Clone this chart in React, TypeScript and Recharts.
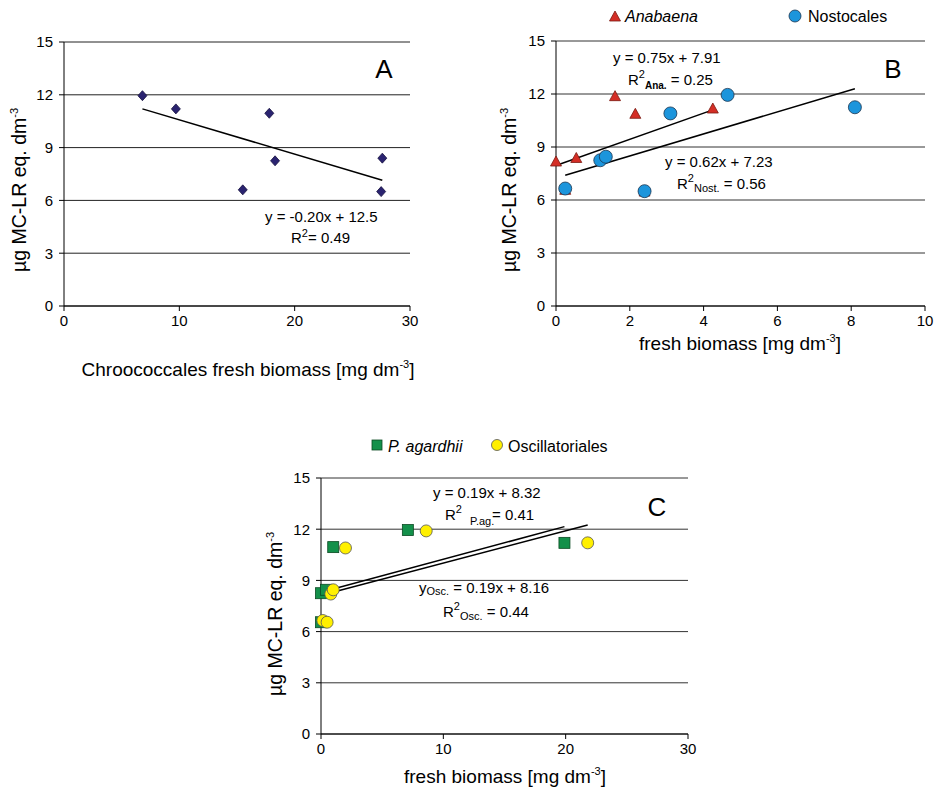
import { ScatterChart, Scatter, XAxis, YAxis, CartesianGrid, ReferenceLine } from 'recharts';

const FONT = '"Liberation Sans", Arial, sans-serif';

// panel A: Chroococcales
const chroococcales = [
  { x: 6.8, y: 11.95 },
  { x: 9.7, y: 11.2 },
  { x: 17.8, y: 10.95 },
  { x: 15.5, y: 6.6 },
  { x: 18.3, y: 8.25 },
  { x: 27.6, y: 8.4 },
  { x: 27.5, y: 6.5 },
];
const trendA = [{ x: 6.8, y: 11.2 }, { x: 27.6, y: 7.15 }];

// panel B: Anabaena / Nostocales
const anabaena = [
  { x: 0.0, y: 8.15 },
  { x: 0.55, y: 8.35 },
  { x: 1.6, y: 11.85 },
  { x: 2.15, y: 10.85 },
  { x: 4.25, y: 11.15 },
  { x: 0.25, y: 6.55 },
  { x: 2.4, y: 6.45 },
];
const nostocales = [
  { x: 0.25, y: 6.65 },
  { x: 1.2, y: 8.25 },
  { x: 1.35, y: 8.45 },
  { x: 2.4, y: 6.5 },
  { x: 3.1, y: 10.9 },
  { x: 4.65, y: 11.95 },
  { x: 8.1, y: 11.25 },
];
const trendAna = [{ x: 0, y: 7.95 }, { x: 4.25, y: 11.1 }];
const trendNost = [{ x: 0.25, y: 7.4 }, { x: 8.1, y: 12.3 }];

// panel C: P. agardhii / Oscillatoriales
const agardhii = [
  { x: 0.0, y: 8.25 },
  { x: 0.4, y: 8.45 },
  { x: 0.0, y: 6.55 },
  { x: 1.0, y: 10.95 },
  { x: 7.1, y: 11.95 },
  { x: 19.9, y: 11.2 },
];
const oscillatoriales = [
  { x: 0.15, y: 6.65 },
  { x: 0.5, y: 6.55 },
  { x: 0.8, y: 8.2 },
  { x: 1.0, y: 8.45 },
  { x: 2.0, y: 10.9 },
  { x: 8.6, y: 11.9 },
  { x: 21.8, y: 11.2 },
];
const trendPag = [{ x: 0, y: 8.3 }, { x: 19.9, y: 12.15 }];
const trendOsc = [{ x: 0.1, y: 8.15 }, { x: 21.8, y: 12.25 }];

const yTicks = [0, 3, 6, 9, 12, 15];
const xTicks30 = [0, 10, 20, 30];
const xTicks10 = [0, 2, 4, 6, 8, 10];

const tickStyle = { fill: '#000', fontSize: 15, fontFamily: FONT };

const Diamond = (p: any) => (
  <polygon
    points={`${p.cx},${p.cy - 5} ${p.cx + 4.5},${p.cy} ${p.cx},${p.cy + 5} ${p.cx - 4.5},${p.cy}`}
    fill="#2a2370" stroke="#15103d" strokeWidth={0.8}
  />
);
const Triangle = (p: any) => (
  <polygon
    points={`${p.cx},${p.cy - 6} ${p.cx + 5.5},${p.cy + 4} ${p.cx - 5.5},${p.cy + 4}`}
    fill="#d42e26" stroke="#7a1a12" strokeWidth={0.8}
  />
);
const BlueDot = (p: any) => <circle cx={p.cx} cy={p.cy} r={6.5} fill="#1c95dc" stroke="#1a3550" strokeWidth={0.8} />;
const Square = (p: any) => (
  <rect x={p.cx - 5.5} y={p.cy - 5.5} width={11} height={11} fill="#13904a" stroke="#0a4a22" strokeWidth={0.8} />
);
const YellowDot = (p: any) => <circle cx={p.cx} cy={p.cy} r={6} fill="#fff000" stroke="#555" strokeWidth={0.8} />;

const seg = (d: { x: number; y: number }[]) => [d[0], d[1]] as any;

export default function App() {
  const sup = { fontSize: 11 };
  return (
    <div style={{ position: 'absolute', left: 0, top: 0, width: 937, height: 789, background: '#fff', fontFamily: FONT }}>
      <div style={{ position: 'absolute', left: 0, top: 0 }}>
        <ScatterChart width={430} height={400} margin={{ top: 42, right: 20, bottom: 64, left: 34 }}>
          <CartesianGrid horizontal vertical={false} stroke="#222" />
          <XAxis type="number" dataKey="x" domain={[0, 30]} ticks={xTicks30} height={30}
            tick={tickStyle} tickSize={5} tickMargin={4} stroke="#000" />
          <YAxis type="number" dataKey="y" domain={[0, 15]} ticks={yTicks} width={30}
            tick={tickStyle} tickSize={5} tickMargin={6} stroke="#000" />
          <ReferenceLine segment={seg(trendA)} stroke="#000" strokeWidth={1.5} />
          <Scatter data={chroococcales} shape={Diamond} isAnimationActive={false} />
        </ScatterChart>
      </div>
      <div style={{ position: 'absolute', left: 470, top: 0 }}>
        <ScatterChart width={467} height={400} margin={{ top: 41, right: 12, bottom: 64, left: 56 }}>
          <CartesianGrid horizontal vertical={false} stroke="#333" />
          <XAxis type="number" dataKey="x" domain={[0, 10]} ticks={xTicks10} height={30}
            tick={tickStyle} tickSize={5} tickMargin={4} stroke="#000" />
          <YAxis type="number" dataKey="y" domain={[0, 15]} ticks={yTicks} width={30}
            tick={tickStyle} tickSize={5} tickMargin={6} stroke="#000" />
          <ReferenceLine segment={seg(trendAna)} stroke="#000" strokeWidth={1.5} />
          <ReferenceLine segment={seg(trendNost)} stroke="#000" strokeWidth={1.5} />
          <Scatter data={anabaena} shape={Triangle} isAnimationActive={false} />
          <Scatter data={nostocales} shape={BlueDot} isAnimationActive={false} />
        </ScatterChart>
      </div>
      <div style={{ position: 'absolute', left: 230, top: 430 }}>
        <ScatterChart width={480} height={359} margin={{ top: 48, right: 22, bottom: 25, left: 61 }}>
          <CartesianGrid horizontal vertical={false} stroke="#333" />
          <XAxis type="number" dataKey="x" domain={[0, 30]} ticks={xTicks30} height={30}
            tick={tickStyle} tickSize={5} tickMargin={4} stroke="#000" />
          <YAxis type="number" dataKey="y" domain={[0, 15]} ticks={yTicks} width={30}
            tick={tickStyle} tickSize={5} tickMargin={6} stroke="#000" />
          <ReferenceLine segment={seg(trendPag)} stroke="#000" strokeWidth={1.5} />
          <ReferenceLine segment={seg(trendOsc)} stroke="#000" strokeWidth={1.5} />
          <Scatter data={agardhii} shape={Square} isAnimationActive={false} />
          <Scatter data={oscillatoriales} shape={YellowDot} isAnimationActive={false} />
        </ScatterChart>
      </div>

      {/* titles, legends and regression labels */}
      <svg width={937} height={789} style={{ position: 'absolute', left: 0, top: 0, pointerEvents: 'none' }}
        fontFamily={FONT} fill="#000">
        {/* panel A */}
        <text x={384} y={78} fontSize={26} textAnchor="middle">A</text>
        <text x={265} y={222} fontSize={15}>y = -0.20x + 12.5</text>
        <text x={291} y={243} fontSize={15}>R<tspan {...sup} dy={-6}>2</tspan><tspan dy={6}>= 0.49</tspan></text>
        <text x={248} y={376} fontSize={19} textAnchor="middle">
          Chroococcales fresh biomass [mg dm<tspan {...sup} dy={-8}>-3</tspan><tspan dy={8}>]</tspan>
        </text>
        <text transform="translate(26,190) rotate(-90)" fontSize={19.5} textAnchor="middle">
          µg MC-LR eq. dm<tspan {...sup} dy={-8}>-3</tspan>
        </text>

        {/* panel B */}
        <polygon points="615,11 620.5,21 609.5,21" fill="#d42e26" stroke="#7a1a12" strokeWidth={0.8} />
        <text x={625} y={22} fontSize={16} fontStyle="italic">Anabaena</text>
        <circle cx={795} cy={16} r={6} fill="#1c95dc" stroke="#1a3550" strokeWidth={0.8} />
        <text x={808} y={22} fontSize={16}>Nostocales</text>
        <text x={893} y={78} fontSize={26} textAnchor="middle">B</text>
        <text x={613} y={63} fontSize={15}>y = 0.75x + 7.91</text>
        <text x={628} y={85} fontSize={15}>R<tspan {...sup} dy={-7}>2</tspan><tspan fontSize={10} fontWeight="bold" dy={11}>Ana.</tspan><tspan dy={-4}> = 0.25</tspan></text>
        <text x={665} y={167} fontSize={15}>y = 0.62x + 7.23</text>
        <text x={677} y={189} fontSize={15}>R<tspan {...sup} dy={-7}>2</tspan><tspan fontSize={11} dy={10}>Nost.</tspan><tspan dy={-3}>  = 0.56</tspan></text>
        <text x={740} y={350} fontSize={19} textAnchor="middle">
          fresh biomass [mg dm<tspan {...sup} dy={-8}>-3</tspan><tspan dy={8}>]</tspan>
        </text>
        <text transform="translate(516,190) rotate(-90)" fontSize={19.5} textAnchor="middle">
          µg MC-LR eq. dm<tspan {...sup} dy={-8}>-3</tspan>
        </text>

        {/* panel C */}
        <rect x={372} y={440} width={10} height={10} fill="#13904a" stroke="#0a4a22" strokeWidth={0.8} />
        <text x={388} y={452} fontSize={16} fontStyle="italic">P. agardhii</text>
        <circle cx={497} cy={445} r={5.5} fill="#fff000" stroke="#555" strokeWidth={0.8} />
        <text x={508} y={452} fontSize={16}>Oscillatoriales</text>
        <text x={657} y={516} fontSize={26} textAnchor="middle">C</text>
        <text x={433} y={498} fontSize={15}>y = 0.19x + 8.32</text>
        <text x={445} y={520} fontSize={15}>R<tspan {...sup} dy={-7}>2</tspan></text>
        <text x={470} y={525} fontSize={11}>P.ag.</text>
        <text x={492} y={520} fontSize={15}>= 0.41</text>
        <text x={419} y={593} fontSize={15}>y<tspan fontSize={11} dy={2}>Osc.</tspan><tspan dy={-2}>  = 0.19x + 8.16</tspan></text>
        <text x={443} y={617} fontSize={15}>R<tspan {...sup} dy={-7}>2</tspan><tspan fontSize={11} dy={10}>Osc.</tspan><tspan dy={-3}>  = 0.44</tspan></text>
        <text x={505} y={783} fontSize={19} textAnchor="middle">
          fresh biomass [mg dm<tspan {...sup} dy={-8}>-3</tspan><tspan dy={8}>]</tspan>
        </text>
        <text transform="translate(282,614) rotate(-90)" fontSize={19.5} textAnchor="middle">
          µg MC-LR eq. dm<tspan {...sup} dy={-8}>-3</tspan>
        </text>
      </svg>
    </div>
  );
}
